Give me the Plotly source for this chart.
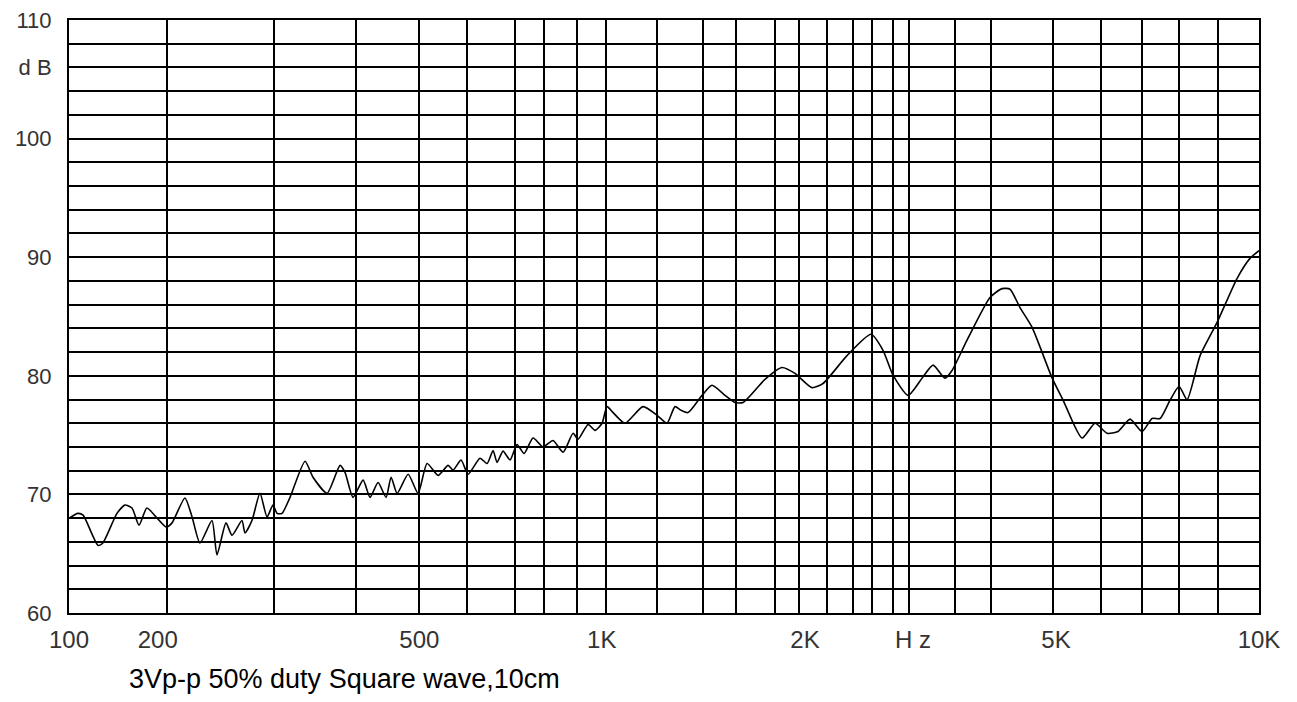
import plotly.graph_objects as go

# Response curve (frequency in Hz on the chart's log axis, level in dB)
freq_hz = [100, 103.5, 105.6, 111.9, 114, 120.4, 124.2, 127.6, 131.1, 135.2,
           140.6, 145.6, 149, 156.6, 161, 166, 173.9, 177.3, 183.6, 187.9,
           195.3, 197.6, 203, 209.4, 215.2, 220.2, 223.7, 228, 235.2, 249.3,
           257.1, 271.5, 285.5, 291, 300.2, 312.1, 320.6, 330.7, 341.1, 347.8,
           356, 371.5, 386.1, 399.8, 417.2, 433.6, 442.1, 456, 468.5, 490.7,
           504.2, 516.1, 524.1, 536.4, 551.2, 566.3, 581.9, 602.5, 626.3, 651,
           676.7, 703.4, 717.1, 745.4, 765.9, 786.9, 802.3, 821.1, 860.1, 922,
           974.6, 1011.7, 1043.5, 1068, 1097.3, 1158.4, 1204.1, 1266.2, 1316.3, 1357.7,
           1478, 1578.9, 1660.2, 1773.3, 1850.4, 2030.5, 2228, 2333.9, 2426.2, 2571.3,
           2714.5, 2832.5, 2967.2, 3048.6, 3230.7, 3531, 3698.7, 3815, 3965.5, 4154,
           4487.4, 4685, 5042.3, 5302.5, 5554.5, 5796, 6071.7, 6359.9, 6611.2, 6819.2,
           7088.4, 7339.7, 7570.7, 7961.4, 8502.7, 9183.8, 9657.6, 10000]
level_db = [68.0, 68.4, 68.25, 65.7, 65.9, 68.4, 69.1, 68.85, 67.4, 68.85,
            68.0, 67.25, 67.6, 69.7, 68.1, 65.9, 67.8, 64.9, 67.6, 66.55,
            67.8, 66.75, 67.8, 70.1, 68.1, 69.1, 68.4, 68.4, 69.75, 72.8,
            71.45, 70.1, 72.45, 71.85, 69.75, 71.2, 69.75, 71.0, 69.75, 71.45,
            70.1, 71.7, 70.1, 72.6, 71.6, 72.45, 72.05, 72.9, 71.7, 73.05,
            72.6, 73.7, 72.7, 73.65, 72.9, 74.2, 73.45, 74.75, 74.0, 74.55,
            73.55, 75.15, 74.65, 75.9, 75.4, 76.0, 77.4, 76.9, 76.0, 77.4,
            76.65, 76.0, 77.4, 77.1, 76.9, 78.35, 79.2, 78.35, 77.75, 77.75,
            79.7, 80.7, 80.2, 79.0, 79.35, 81.7, 83.5, 82.15, 80.05, 78.35,
            79.8, 80.9, 79.8, 80.45, 83.0, 86.6, 87.35, 87.3, 85.75, 84.1,
            79.85, 77.95, 74.75, 76.0, 75.15, 75.3, 76.35, 75.3, 76.4, 76.4,
            77.95, 79.1, 78.0, 81.7, 84.5, 88.2, 89.9, 90.55]

# Grid lines of the reference
grid_freq_hz = [100, 146, 221, 304, 388, 467, 562, 628, 714, 799, 973, 1163, 1321,
                1537, 1686, 1879, 2078, 2237, 2426, 2581, 3084, 3544, 4507, 5427,
                6360, 7337, 8533, 10000]
grid_db = list(range(60, 111, 2))

# Tick labels (placed where the reference prints them)
x_tick_vals = [100, 141, 388, 786, 1726, 2621, 4559, 10000]
x_tick_text = ["100", "200", "500", "1K", "2K", "H z", "5K", "10K"]
y_tick_vals = [60, 70, 80, 90, 100, 106, 110]
y_tick_text = ["60", "70", "80", "90", "100", "d B", "110"]

caption = "3Vp-p 50% duty Square wave,10cm"

fig = go.Figure()
fig.add_trace(go.Scatter(
    x=freq_hz, y=level_db, mode="lines",
    line=dict(color="black", width=1.6, shape="spline", smoothing=0.6),
    hoverinfo="skip", showlegend=False,
))

x_tick_font = dict(family="Liberation Sans, Arial, sans-serif", size=24, color="#333333")
y_tick_font = dict(family="Liberation Sans, Arial, sans-serif", size=22, color="#333333")

# page body adds an 8px margin, so the figure is sized to fit inside the window
fig.update_layout(
    width=1281, height=686,
    margin=dict(l=61, r=30, t=12, b=81, autoexpand=False),
    paper_bgcolor="white", plot_bgcolor="white",
    showlegend=False,
    xaxis=dict(
        type="log", range=[2, 4], automargin=False,
        tickmode="array", tickvals=x_tick_vals, ticktext=x_tick_text,
        showgrid=False, zeroline=False, ticks="",
        showline=True, mirror=True, linecolor="black", linewidth=2,
        tickfont=x_tick_font, ticklabelstandoff=4, ticklabeloverflow="allow",
        minor=dict(tickmode="array", tickvals=grid_freq_hz, showgrid=True,
                   gridcolor="black", gridwidth=2, ticks=""),
    ),
    yaxis=dict(
        range=[60, 110], automargin=False,
        tickmode="array", tickvals=y_tick_vals, ticktext=y_tick_text,
        showgrid=False, zeroline=False, ticks="",
        showline=True, mirror=True, linecolor="black", linewidth=2,
        tickfont=y_tick_font, ticklabelstandoff=11, ticklabeloverflow="allow",
        minor=dict(tickmode="array", tickvals=grid_db, showgrid=True,
                   gridcolor="black", gridwidth=2, ticks=""),
    ),
    annotations=[dict(
        text=caption, xref="paper", yref="paper",
        x=(127 - 69) / 1190, y=(613 - 679) / 594,
        xanchor="left", yanchor="middle", showarrow=False,
        font=dict(family="Liberation Sans, Arial, sans-serif", size=27, color="black"),
    )],
)

fig.write_html("out.html")
